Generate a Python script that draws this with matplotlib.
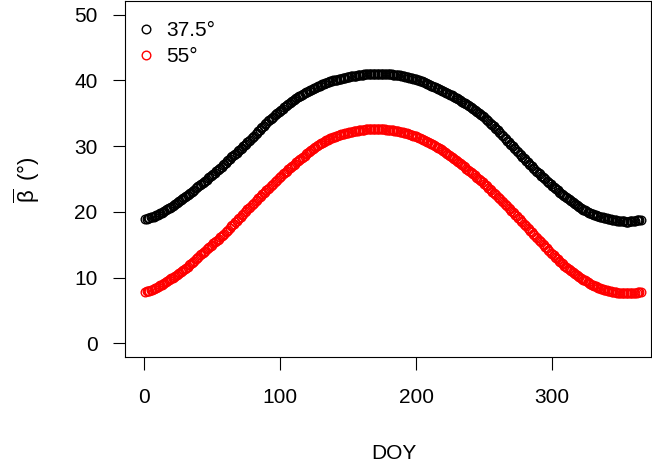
import numpy as np
import matplotlib
matplotlib.use("Agg")
import matplotlib.pyplot as plt

plt.rcParams['font.family'] = ['Liberation Sans', 'DejaVu Sans']
plt.rcParams['mathtext.fontset'] = 'custom'
plt.rcParams['mathtext.rm'] = 'Liberation Sans'
plt.rcParams['mathtext.it'] = 'Liberation Sans:italic'

# day of year
doy = np.arange(1, 366)

# mean beta, latitude 37.5
beta_375 = [
    18.9, 18.95, 19.0, 19.08, 19.15, 19.22, 19.3, 19.4, 19.5, 19.6,
    19.7, 19.8, 19.9, 20.0, 20.1, 20.25, 20.4, 20.52, 20.65, 20.78,
    20.9, 21.05, 21.2, 21.35, 21.5, 21.65, 21.8, 21.92, 22.05, 22.2,
    22.35, 22.52, 22.7, 22.88, 23.05, 23.22, 23.4, 23.58, 23.75, 23.92,
    24.1, 24.25, 24.4, 24.58, 24.75, 24.92, 25.1, 25.28, 25.45, 25.62,
    25.8, 25.98, 26.15, 26.35, 26.55, 26.72, 26.9, 27.1, 27.3, 27.5,
    27.7, 27.9, 28.1, 28.28, 28.45, 28.65, 28.85, 29.02, 29.2, 29.4,
    29.6, 29.8, 30.0, 30.2, 30.4, 30.6, 30.8, 31.0, 31.2, 31.4,
    31.6, 31.82, 32.05, 32.28, 32.5, 32.7, 32.9, 33.12, 33.35, 33.58,
    33.8, 33.98, 34.15, 34.32, 34.5, 34.68, 34.85, 35.02, 35.2, 35.38,
    35.55, 35.72, 35.9, 36.08, 36.25, 36.4, 36.55, 36.7, 36.85, 37.0,
    37.15, 37.3, 37.45, 37.58, 37.7, 37.82, 37.95, 38.08, 38.2, 38.3,
    38.4, 38.5, 38.6, 38.7, 38.8, 38.9, 39.0, 39.1, 39.2, 39.3,
    39.4, 39.48, 39.55, 39.62, 39.7, 39.78, 39.85, 39.92, 40.0, 40.05,
    40.1, 40.15, 40.2, 40.25, 40.3, 40.35, 40.4, 40.45, 40.5, 40.55,
    40.6, 40.62, 40.65, 40.68, 40.7, 40.75, 40.8, 40.82, 40.85, 40.88,
    40.9, 40.92, 40.95, 40.95, 40.95, 40.98, 41.0, 41.0, 41.0, 41.0,
    41.0, 41.0, 41.0, 41.0, 41.0, 41.0, 41.0, 41.0, 41.0, 40.98,
    40.95, 40.92, 40.9, 40.88, 40.85, 40.82, 40.8, 40.78, 40.75, 40.7,
    40.65, 40.6, 40.55, 40.5, 40.45, 40.4, 40.35, 40.3, 40.25, 40.18,
    40.1, 40.02, 39.95, 39.88, 39.8, 39.7, 39.6, 39.5, 39.4, 39.3,
    39.2, 39.12, 39.05, 38.95, 38.85, 38.75, 38.65, 38.55, 38.45, 38.35,
    38.25, 38.15, 38.05, 37.95, 37.85, 37.72, 37.6, 37.5, 37.4, 37.28,
    37.15, 37.02, 36.9, 36.78, 36.65, 36.52, 36.4, 36.28, 36.15, 36.0,
    35.85, 35.7, 35.55, 35.38, 35.2, 35.05, 34.9, 34.75, 34.6, 34.4,
    34.2, 34.0, 33.8, 33.6, 33.4, 33.2, 33.0, 32.8, 32.6, 32.4,
    32.2, 31.98, 31.75, 31.52, 31.3, 31.08, 30.85, 30.62, 30.4, 30.2,
    30.0, 29.78, 29.55, 29.32, 29.1, 28.88, 28.65, 28.42, 28.2, 28.0,
    27.8, 27.58, 27.35, 27.15, 26.95, 26.72, 26.5, 26.3, 26.1, 25.9,
    25.7, 25.5, 25.3, 25.12, 24.95, 24.75, 24.55, 24.38, 24.2, 24.0,
    23.8, 23.62, 23.45, 23.28, 23.1, 22.92, 22.75, 22.58, 22.4, 22.22,
    22.05, 21.9, 21.75, 21.6, 21.45, 21.3, 21.15, 21.0, 20.85, 20.72,
    20.6, 20.48, 20.35, 20.22, 20.1, 20.0, 19.9, 19.8, 19.7, 19.62,
    19.55, 19.48, 19.4, 19.35, 19.3, 19.25, 19.2, 19.12, 19.05, 19.0,
    18.95, 18.9, 18.85, 18.8, 18.75, 18.72, 18.7, 18.68, 18.65, 18.62,
    18.6, 18.58, 18.55, 18.52, 18.5, 18.52, 18.55, 18.58, 18.6, 18.62,
    18.65, 18.7, 18.75, 18.78, 18.8,
]

# mean beta, latitude 55
beta_55 = [
    7.85, 7.9, 7.95, 8.02, 8.1, 8.18, 8.25, 8.35, 8.45, 8.58,
    8.7, 8.82, 8.95, 9.08, 9.2, 9.32, 9.45, 9.6, 9.75, 9.88,
    10.0, 10.15, 10.3, 10.45, 10.6, 10.75, 10.9, 11.05, 11.2, 11.35,
    11.5, 11.68, 11.85, 12.02, 12.2, 12.4, 12.6, 12.8, 13.0, 13.2,
    13.4, 13.58, 13.75, 13.92, 14.1, 14.28, 14.45, 14.62, 14.8, 15.0,
    15.2, 15.38, 15.55, 15.75, 15.95, 16.15, 16.35, 16.52, 16.7, 16.9,
    17.1, 17.32, 17.55, 17.78, 18.0, 18.22, 18.45, 18.68, 18.9, 19.1,
    19.3, 19.52, 19.75, 19.95, 20.15, 20.38, 20.6, 20.8, 21.0, 21.2,
    21.4, 21.62, 21.85, 22.05, 22.25, 22.45, 22.65, 22.88, 23.1, 23.3,
    23.5, 23.7, 23.9, 24.1, 24.3, 24.5, 24.7, 24.9, 25.1, 25.3,
    25.5, 25.7, 25.9, 26.1, 26.3, 26.48, 26.65, 26.82, 27.0, 27.18,
    27.35, 27.52, 27.7, 27.88, 28.05, 28.22, 28.4, 28.58, 28.75, 28.9,
    29.05, 29.22, 29.4, 29.55, 29.7, 29.85, 30.0, 30.15, 30.3, 30.42,
    30.55, 30.68, 30.8, 30.9, 31.0, 31.1, 31.2, 31.28, 31.35, 31.42,
    31.5, 31.58, 31.65, 31.72, 31.8, 31.85, 31.9, 31.95, 32.0, 32.05,
    32.1, 32.15, 32.2, 32.25, 32.3, 32.32, 32.35, 32.4, 32.45, 32.48,
    32.5, 32.52, 32.55, 32.55, 32.55, 32.58, 32.6, 32.6, 32.6, 32.6,
    32.6, 32.6, 32.6, 32.6, 32.6, 32.58, 32.55, 32.52, 32.5, 32.48,
    32.45, 32.42, 32.4, 32.35, 32.3, 32.28, 32.25, 32.2, 32.15, 32.1,
    32.05, 32.0, 31.95, 31.88, 31.8, 31.75, 31.7, 31.62, 31.55, 31.48,
    31.4, 31.3, 31.2, 31.1, 31.0, 30.9, 30.8, 30.7, 30.6, 30.5,
    30.4, 30.28, 30.15, 30.02, 29.9, 29.78, 29.65, 29.52, 29.4, 29.28,
    29.15, 29.0, 28.85, 28.7, 28.55, 28.4, 28.25, 28.1, 27.95, 27.8,
    27.65, 27.48, 27.3, 27.12, 26.95, 26.78, 26.6, 26.45, 26.3, 26.1,
    25.9, 25.72, 25.55, 25.38, 25.2, 25.02, 24.85, 24.68, 24.5, 24.3,
    24.1, 23.9, 23.7, 23.5, 23.3, 23.1, 22.9, 22.7, 22.5, 22.3,
    22.1, 21.9, 21.7, 21.48, 21.25, 21.05, 20.85, 20.62, 20.4, 20.2,
    20.0, 19.78, 19.55, 19.32, 19.1, 18.88, 18.65, 18.42, 18.2, 18.0,
    17.8, 17.58, 17.35, 17.12, 16.9, 16.68, 16.45, 16.22, 16.0, 15.8,
    15.6, 15.38, 15.15, 14.92, 14.7, 14.48, 14.25, 14.02, 13.8, 13.6,
    13.4, 13.2, 13.0, 12.8, 12.6, 12.4, 12.2, 12.0, 11.8, 11.62,
    11.45, 11.28, 11.1, 10.95, 10.8, 10.65, 10.5, 10.35, 10.2, 10.08,
    9.95, 9.82, 9.7, 9.58, 9.45, 9.32, 9.2, 9.08, 8.95, 8.85,
    8.75, 8.65, 8.55, 8.48, 8.4, 8.32, 8.25, 8.18, 8.1, 8.05,
    8.0, 7.95, 7.9, 7.85, 7.8, 7.78, 7.75, 7.72, 7.7, 7.68,
    7.65, 7.62, 7.6, 7.6, 7.6, 7.6, 7.6, 7.6, 7.6, 7.62,
    7.65, 7.7, 7.75, 7.8, 7.85,
]

labels = ['37.5°', '55°']
colors = ['black', 'red']
xticks = [0, 100, 200, 300]
yticks = [0, 10, 20, 30, 40, 50]

fig = plt.figure(figsize=(6.52, 4.69), dpi=100)
ax = fig.add_axes([0.1913, 0.2394, 0.8073, 0.7585])

for vals, lab, col in zip([beta_375, beta_55], labels, colors):
    ax.plot(doy, vals, linestyle='none', marker='o', markersize=6.2,
            markerfacecolor='none', markeredgecolor=col,
            markeredgewidth=1.0, label=lab)

ax.set_xlim(-14.2, 372.7)
ax.set_ylim(-2.04, 52.1)
ax.set_xticks(xticks)
ax.set_yticks(yticks)
ax.tick_params(direction='out', length=9, width=0.8, labelsize=15)
ax.tick_params(axis='x', pad=13.5)
ax.tick_params(axis='y', pad=10.5)
for s in ax.spines.values():
    s.set_linewidth(0.8)

ax.set_xlabel('DOY', fontsize=15)
ax.xaxis.set_label_coords(0.5114, -0.2707)
ax.xaxis.label.set_verticalalignment('center')
ax.set_ylabel(r'$\overline{\mathrm{\beta}}\,$ (°)', fontsize=16)
ax.yaxis.set_label_coords(-0.1855, 0.4968)
ax.yaxis.label.set_verticalalignment('center')

ax.legend(loc='upper left', bbox_to_anchor=(-0.0076, 0.9907), frameon=False,
          fontsize=15, handlelength=0.8, handletextpad=0.6, labelspacing=0.35,
          borderaxespad=0.5, borderpad=0.3)

plt.savefig('out.png', dpi=100)
plt.close()
